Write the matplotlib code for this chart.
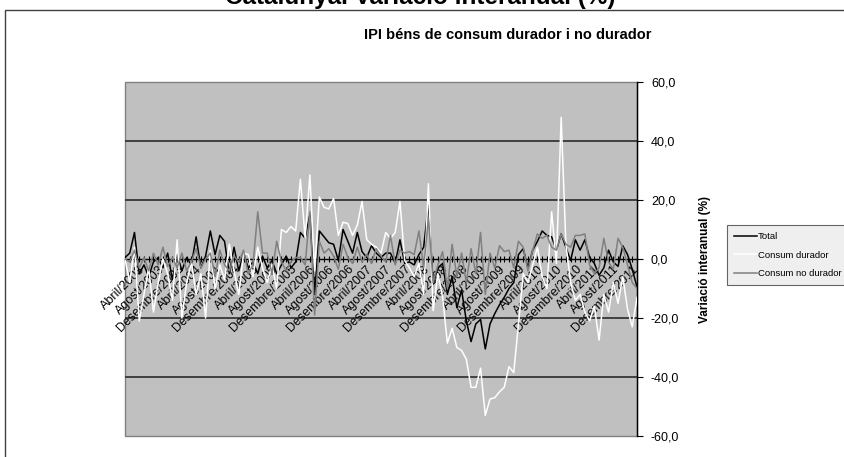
import numpy as np
import matplotlib
matplotlib.use("Agg")
import matplotlib.pyplot as plt
from matplotlib.ticker import FuncFormatter
from matplotlib.patches import Rectangle

plt.rcParams['font.family'] = ['Liberation Sans', 'DejaVu Sans']

# categories: Gener/2003 .. Gener/2012
mesos = ['Gener', 'Febrer', 'Març', 'Abril', 'Maig', 'Juny', 'Juliol', 'Agost',
         'Setembre', 'Octubre', 'Novembre', 'Desembre']
anys = list(range(2003, 2013))
categories = ['%s/%d' % (m, a) for a in anys for m in mesos][:109]

total = [0.5, 2.0, 9.0, -5.0, -2.0, -6.0, -1.0, 0.5, -3.0, 2.0,
         -7.0, 1.5, -4.0, 0.5, -2.0, 7.5, -3.0, 1.0, 9.5, 1.5,
         8.0, 6.0, -5.0, 4.0, -4.0, 2.0, -3.0, -1.0, -5.0, 1.0,
         -3.0, -0.5, -5.0, -2.0, 1.0, -3.0, -1.0, 9.0, 7.0, 15.0,
         -12.0, 9.5, 7.5, 5.5, 5.0, -0.5, 10.0, 6.0, 2.0, 9.0,
         2.5, 0.5, 4.5, 2.0, 0.5, 2.0, 2.0, -1.5, 6.5, -1.5,
         -1.0, -2.0, 1.5, 4.0, 18.5, -8.5, -3.0, -1.5, -12.0, -6.0,
         -16.5, -10.5, -21.0, -28.0, -22.0, -20.5, -30.5, -22.0, -18.5, -15.5,
         -13.0, -10.0, -8.0, 1.5, 3.5, -3.0, 3.0, 6.0, 9.5, 8.0,
         7.5, 3.0, 8.5, 4.0, -0.5, 6.5, 3.0, 6.5, 0.5, -1.5,
         -5.5, -3.0, 3.0, -1.0, -2.5, 4.5, 1.5, -3.5, -9.5]

durador = [0.0, -8.0, 4.0, -21.0, -12.0, -3.0, -18.0, -8.0, 0.0, -5.0,
           -14.0, 6.5, -20.0, -8.0, -1.0, -12.0, -5.0, -20.0, 3.0, -10.0,
           -2.0, -7.0, 5.0, -4.0, -12.0, 2.0, 1.5, -6.0, 4.0, -3.0,
           -8.0, -2.0, -10.0, 10.0, 9.0, 11.0, 9.5, 27.0, 7.0, 28.5,
           -4.0, 21.0, 17.5, 17.0, 20.5, 8.0, 12.5, 12.0, 8.0, 11.5,
           19.5, 6.5, 5.0, 4.0, 2.0, 9.0, 7.0, 9.0, 19.5, -0.5,
           -3.0, -6.0, -1.5, -12.0, 25.5, -17.5, -5.0, -13.0, -28.5, -23.5,
           -30.0, -31.0, -34.0, -43.5, -43.5, -37.0, -53.0, -47.5, -47.0, -45.0,
           -43.5, -36.5, -38.5, -22.0, -5.0, -8.0, -2.0, 4.0, -6.0, -10.0,
           16.0, -1.5, 48.0, 5.0, -8.0, -14.0, -12.0, -18.0, -21.0, -16.0,
           -27.5, -12.0, -18.0, -8.0, -15.0, -6.0, -17.0, -23.0, -13.0]

no_durador = [0.0, -1.0, 3.0, -3.0, 0.5, -4.0, 2.0, -2.0, 4.0, -2.5,
              0.5, -3.0, 2.0, -4.0, -1.0, 3.5, -3.0, 0.0, 2.0, -6.0,
              3.0, -2.0, -4.0, 1.0, -1.0, 3.0, -5.0, -2.0, 16.0, 2.0,
              2.0, -5.0, 6.0, -1.0, -4.0, -1.0, 0.5, 0.5, -2.0, 16.0,
              -19.0, 6.0, 2.0, 3.5, 1.0, -3.5, 5.0, 0.5, -1.5, 4.0,
              -1.0, 1.5, -1.5, 3.5, 1.0, -1.0, 8.0, -2.0, 3.0, 2.0,
              2.5, 1.5, 9.5, -3.0, 14.0, -8.0, -2.0, 2.5, -10.0, 5.0,
              -6.0, 2.0, -8.0, 3.5, -5.0, 9.0, -12.0, 2.0, -3.0, 4.5,
              2.5, 3.0, -3.0, 6.0, 4.0, -4.0, 3.0, 8.5, 7.0, 8.0,
              4.0, 3.0, 8.5, 5.0, 4.0, 8.0, 8.0, 8.5, -2.0, -5.0,
              -3.0, 7.0, -1.0, -3.5, 7.0, 4.0, -2.0, -8.0, -10.0]

yticks = [-60, -40, -20, 0, 20, 40, 60]
gridvals = [-40, -20, 20, 40]

fig = plt.figure(figsize=(8.45, 4.57), dpi=100)

# outer chart border (cut by the image edge)
fig.patches.append(Rectangle((5 / 845., -0.1), 1.2, 1 - 10 / 457. + 0.1,
                             transform=fig.transFigure, fill=False,
                             edgecolor='#404040', lw=1.0))

# main title sits half outside the picture, like the original
fig.text(420 / 845., 1 - 4 / 457., 'Catalunya. Variació interanual (%)',
         ha='center', va='baseline', fontsize=17.5, fontweight='bold')
fig.text(508 / 845., 1 - 35 / 457., 'IPI béns de consum durador i no durador',
         ha='center', va='center', fontsize=10.5, fontweight='bold')

ax = fig.add_axes([125 / 845., 1 - 436 / 457., 512 / 845., 354 / 457.])
ax.set_facecolor('#C0C0C0')
ax.patch.set_edgecolor('#808080')
ax.patch.set_linewidth(1.0)

x = np.arange(len(categories))
for g in gridvals:
    ax.axhline(g, color='#404040', lw=1.4, zorder=1)

ax.plot(x, total, color='black', lw=1.1, label='Total', zorder=3)
ax.plot(x, durador, color='white', lw=1.1, label='Consum durador', zorder=3)
ax.plot(x, no_durador, color='#808080', lw=1.1, label='Consum no durador', zorder=3)

ax.set_xlim(0, len(categories) - 1)
ax.set_ylim(-60, 60)

for s in ['top', 'left']:
    ax.spines[s].set_visible(False)
ax.spines['bottom'].set_position(('data', 0))
ax.spines['bottom'].set_color('black')
ax.spines['bottom'].set_linewidth(1.0)
ax.spines['bottom'].set_zorder(2)
ax.spines['right'].set_color('black')
ax.spines['right'].set_linewidth(1.0)

ax.set_xticks(x)
ax.set_xticklabels([c if i % 4 == 3 else '' for i, c in enumerate(categories)],
                   rotation=45, ha='right', va='top', rotation_mode='anchor',
                   fontsize=9)
ax.tick_params(axis='x', direction='inout', length=4, width=0.8, pad=1)

ax.yaxis.tick_right()
ax.set_yticks(yticks)
ax.yaxis.set_major_formatter(FuncFormatter(lambda v, p: ('%.1f' % v).replace('.', ',')))
ax.tick_params(axis='y', direction='out', length=4, width=0.8, labelsize=9, pad=6)
ax.yaxis.set_label_position('right')
ax.set_ylabel('Variació interanual (%)', fontsize=8.5, fontweight='bold', labelpad=14)

leg = fig.legend(loc='center left', bbox_to_anchor=(727 / 845., 1 - 255 / 457.),
                 fontsize=6.8, frameon=True, fancybox=False, shadow=False,
                 handlelength=2.5, borderpad=0.7, labelspacing=1.0,
                 handletextpad=0.1, borderaxespad=0)
leg.get_frame().set_edgecolor('#404040')
leg.get_frame().set_facecolor('#ECECEC')
leg.get_frame().set_linewidth(0.8)

plt.savefig('out.png', dpi=100)
plt.close()
